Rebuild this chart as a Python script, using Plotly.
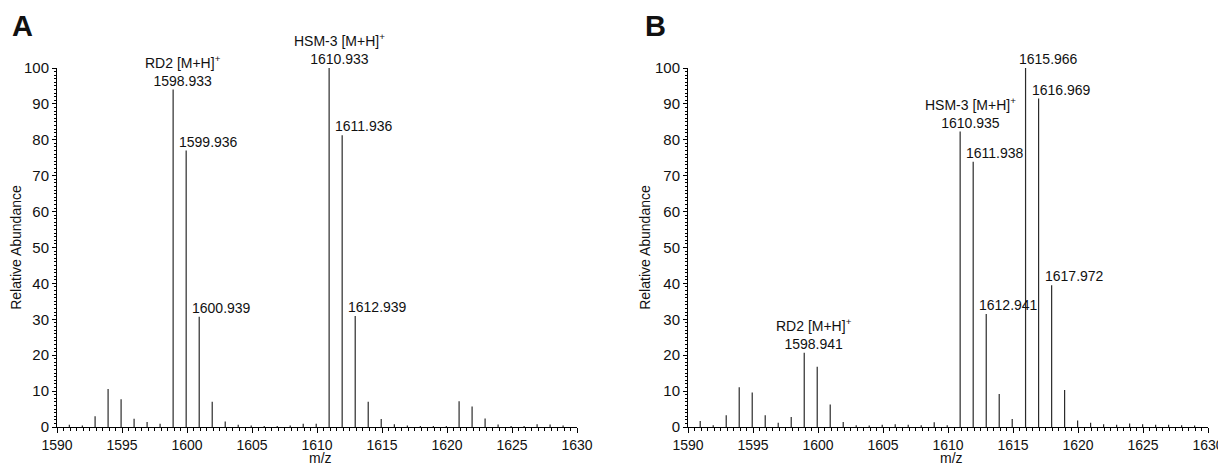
import plotly.graph_objects as go

# ---------------- data ----------------
a_mz = [1590.95, 1591.95, 1592.93, 1593.93, 1594.93, 1595.93, 1596.93, 1597.93,
        1598.933, 1599.936, 1600.939, 1601.94, 1602.94, 1603.94, 1604.94, 1605.94,
        1606.94, 1607.94, 1608.94, 1609.94, 1610.933, 1611.936, 1612.939, 1613.94,
        1614.94, 1615.95, 1616.95, 1617.95, 1618.95, 1619.95, 1620.93, 1621.93,
        1622.93, 1623.93, 1624.93, 1625.93, 1626.93, 1627.93, 1628.93]
a_int = [0.6, 0.4, 3.0, 10.6, 7.7, 2.3, 1.4, 0.9,
         94.0, 77.0, 30.7, 7.0, 1.5, 0.6, 0.4, 0.3,
         0.3, 0.4, 0.9, 0.9, 100.0, 81.3, 30.9, 7.0,
         2.2, 0.8, 0.4, 0.3, 0.3, 0.3, 7.2, 5.7,
         2.4, 0.7, 0.3, 0.3, 0.8, 0.7, 0.4]

b_mz = [1590.94, 1591.94, 1592.94, 1593.94, 1594.94, 1595.94, 1596.94, 1597.94,
        1598.941, 1599.94, 1600.94, 1601.94, 1602.94, 1603.94, 1604.94, 1605.94,
        1606.94, 1607.94, 1608.94, 1609.94, 1610.935, 1611.938, 1612.941, 1613.94,
        1614.94, 1615.966, 1616.969, 1617.972, 1618.97, 1619.97, 1620.97, 1621.97,
        1622.97, 1623.97, 1624.97, 1625.97, 1626.97, 1627.97, 1628.97]
b_int = [1.7, 0.5, 3.3, 11.1, 9.6, 3.3, 1.2, 2.8,
         20.7, 16.8, 6.3, 1.4, 0.5, 0.4, 0.6, 0.8,
         0.6, 0.5, 1.3, 0.5, 82.3, 73.9, 31.5, 9.2,
         2.2, 100.0, 91.5, 39.5, 10.3, 1.8, 1.2, 0.8,
         0.6, 1.0, 0.8, 0.6, 0.6, 0.5, 0.4]

a_label_mz = [1598.933, 1599.936, 1600.939, 1610.933, 1611.936, 1612.939]
a_label_name = ["RD2 [M+H]<sup>+</sup>", "", "", "HSM-3 [M+H]<sup>+</sup>", "", ""]
b_label_mz = [1598.941, 1610.935, 1611.938, 1612.941, 1615.966, 1616.969, 1617.972]
b_label_name = ["RD2 [M+H]<sup>+</sup>", "HSM-3 [M+H]<sup>+</sup>", "", "", "", "", ""]

x_ticks = [1590, 1595, 1600, 1605, 1610, 1615, 1620, 1625, 1630]
y_ticks = [0, 10, 20, 30, 40, 50, 60, 70, 80, 90, 100]
panel_letters = ["A", "B"]
x_title = "m/z"
y_title = "Relative Abundance"

# ---------------- figure ----------------
W, H = 1226, 464
OFF = 8  # page body margin offset
FONT = "Arial, Liberation Sans, sans-serif"
INK = "#111111"


def sticks(mz, inten):
    xs, ys = [], []
    for m, v in zip(mz, inten):
        xs += [m, m, None]
        ys += [0, v, None]
    return xs, ys


fig = go.Figure()
panels = [
    (a_mz, a_int, a_label_mz, a_label_name, "x", "y"),
    (b_mz, b_int, b_label_mz, b_label_name, "x2", "y2"),
]
for mz, inten, lmz, lname, xa, ya in panels:
    xs, ys = sticks(mz, inten)
    fig.add_trace(go.Scatter(x=xs, y=ys, mode="lines", xaxis=xa, yaxis=ya,
                             line=dict(color="#2b2b2b", width=1.2),
                             hoverinfo="skip", showlegend=False))

annotations = []
for mz, inten, lmz, lname, xa, ya in panels:
    lookup = dict(zip(mz, inten))
    for m, name in zip(lmz, lname):
        v = lookup[m]
        num = f"{m:.3f}"
        if name:
            txt = f"{name}<br>{num}"
            anchor, shift = "center", 10
        else:
            txt = num
            anchor, shift = "left", -9
        annotations.append(dict(x=m, y=v, xref=xa, yref=ya, text=txt,
                                showarrow=False, xanchor=anchor, yanchor="bottom",
                                xshift=shift, yshift=-1, align="center",
                                font=dict(family=FONT, size=14, color=INK)))

# panel letters
letter_px = [12, 645]
for lx, letter in zip(letter_px, panel_letters):
    annotations.append(dict(x=(lx - OFF - 2) / W, y=1.117, xref="paper", yref="paper",
                            text=f"<b>{letter}</b>", showarrow=False,
                            xanchor="left", yanchor="middle",
                            font=dict(family=FONT, size=29, color=INK)))

axis_common = dict(
    showgrid=False, zeroline=False, showline=True, linecolor="black", linewidth=1,
    ticks="outside", tickcolor="black", tickwidth=1,
)

xdomains = [((57 - OFF) / W, (577 - OFF) / W), ((688 - OFF) / W, (1208 - OFF) / W)]
layout_axes = {}
for i, (d0, d1) in enumerate(xdomains):
    sx = "" if i == 0 else str(i + 1)
    layout_axes[f"xaxis{sx}"] = dict(
        axis_common, domain=[d0, d1], range=[1590, 1630], anchor=f"y{sx}",
        tickvals=x_ticks, ticklen=5,
        tickfont=dict(family=FONT, size=14, color=INK),
        minor=dict(dtick=0.5, ticklen=3, tickcolor="black", ticks="outside"),
    )
    layout_axes[f"yaxis{sx}"] = dict(
        axis_common, domain=[0, 1], range=[0, 100], anchor=f"x{sx}",
        tickvals=y_ticks, ticklen=4,
        tickfont=dict(family=FONT, size=15, color=INK),
        minor=dict(dtick=1, ticklen=2.5, tickcolor="black", ticks="outside"),
        title=dict(text=y_title, font=dict(family=FONT, size=14, color=INK),
                   standoff=1),
    )
    # x-axis title placed as annotation just under the tick labels
    annotations.append(dict(x=(d0 + d1) / 2, y=-0.085, xref="paper", yref="paper",
                            text=x_title, showarrow=False, xanchor="center",
                            yanchor="middle", xshift=3,
                            font=dict(family=FONT, size=14, color=INK)))

fig.update_layout(
    width=W, height=H,
    margin=dict(l=0, r=0, t=68 - OFF, b=37 + OFF),
    paper_bgcolor="white", plot_bgcolor="white",
    annotations=annotations,
    **layout_axes,
)
for k in layout_axes:
    fig.layout[k].automargin = False

fig.write_html("out.html")
